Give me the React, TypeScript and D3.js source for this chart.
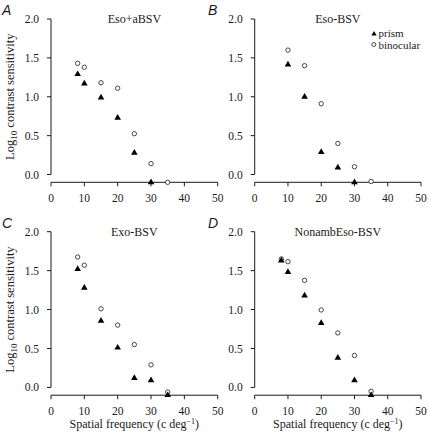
import React from "react";
import * as d3 from "d3";

const panelLetters = ["A", "B", "C", "D"];
const panelTitles = ["Eso+aBSV", "Eso-BSV", "Exo-BSV", "NonambEso-BSV"];
const xTicks = [0, 10, 20, 30, 40, 50];
const yTicks = [0, 0.5, 1.0, 1.5, 2.0];

// Panel A
const prismFreqA = [8, 10, 15, 20, 25, 30];
const prismA = [1.29, 1.17, 0.99, 0.73, 0.28, -0.1];
const binocFreqA = [8, 10, 15, 20, 25, 30, 35];
const binocA = [1.43, 1.38, 1.18, 1.11, 0.525, 0.14, -0.1];
// Panel B
const prismFreqB = [10, 15, 20, 25, 30];
const prismB = [1.415, 1.0, 0.29, 0.09, -0.1];
const binocFreqB = [10, 15, 20, 25, 30, 35];
const binocB = [1.6, 1.4, 0.91, 0.4, 0.1, -0.09];
// Panel C
const prismFreqC = [8, 10, 15, 20, 25, 30, 35];
const prismC = [1.52, 1.28, 0.855, 0.51, 0.12, 0.09, -0.1];
const binocFreqC = [8, 10, 15, 20, 25, 30, 35];
const binocC = [1.675, 1.57, 1.01, 0.8, 0.55, 0.29, -0.06];
// Panel D
const prismFreqD = [8, 10, 15, 20, 25, 30, 35];
const prismD = [1.63, 1.48, 1.18, 0.825, 0.38, 0.09, -0.1];
const binocFreqD = [8, 10, 15, 20, 25, 30, 35];
const binocD = [1.65, 1.615, 1.375, 0.995, 0.7, 0.41, -0.05];

const legendLabels = ["prism", "binocular"];

const panels = [
  { pf: prismFreqA, pv: prismA, bf: binocFreqA, bv: binocA },
  { pf: prismFreqB, pv: prismB, bf: binocFreqB, bv: binocB },
  { pf: prismFreqC, pv: prismC, bf: binocFreqC, bv: binocC },
  { pf: prismFreqD, pv: prismD, bf: binocFreqD, bv: binocD },
];

const layout = [
  { x0: 51, x1: 217.7, yTop: 19, yBot: 182.3 },
  { x0: 254.7, x1: 421, yTop: 19, yBot: 182.3 },
  { x0: 51, x1: 217.7, yTop: 231.7, yBot: 395.2 },
  { x0: 254.7, x1: 421, yTop: 231.7, yBot: 395.2 },
];

const serifStyle = { fontFamily: '"Liberation Serif", "DejaVu Serif", serif' };
const sansStyle = { fontFamily: '"Liberation Sans", Arial, sans-serif', fontStyle: "italic" as const };
const ink = "#1a1a1a";
const tri = d3.symbol().type(d3.symbolTriangle).size(19)()!;

function Panel({ i }: { i: number }) {
  const L = layout[i];
  const P = panels[i];
  const x = d3.scaleLinear().domain([0, 50]).range([L.x0, L.x1]);
  const y = d3.scaleLinear().domain([-0.1, 2.0]).range([L.yBot, L.yTop]);
  const bottomRow = i >= 2;
  const leftCol = i % 2 === 0;
  return (
    <g>
      <line x1={x(0)} x2={x(0)} y1={y(2)} y2={y(0)} stroke={ink} strokeWidth={1} />
      {yTicks.map((t) => (
        <g key={"y" + t}>
          <line x1={x(0) - 4} x2={x(0)} y1={y(t)} y2={y(t)} stroke={ink} strokeWidth={1} />
          <text x={x(0) - 12} y={y(t)} dy="0.35em" textAnchor="end" style={serifStyle} fontSize={11.5} fill={ink}>
            {d3.format(".1f")(t)}
          </text>
        </g>
      ))}
      <line x1={x(0)} x2={x(50)} y1={y(-0.1)} y2={y(-0.1)} stroke={ink} strokeWidth={1} />
      {xTicks.map((t) => (
        <g key={"x" + t}>
          <line x1={x(t)} x2={x(t)} y1={y(-0.1)} y2={y(-0.1) + 4} stroke={ink} strokeWidth={1} />
          <text x={x(t)} y={y(-0.1) + 19.5} textAnchor="middle" style={serifStyle} fontSize={11.5} fill={ink}>
            {t}
          </text>
        </g>
      ))}
      <text x={x(25)} y={L.yTop + 4} textAnchor="middle" style={serifStyle} fontSize={12} fill={ink}>
        {panelTitles[i]}
      </text>
      <text x={leftCol ? 2 : 208} y={L.yTop - 4} style={sansStyle} fontSize={14} fill={ink}>
        {panelLetters[i]}
      </text>
      {leftCol && (
        <text
          transform={`translate(14,${(y(0) + y(2)) / 2}) rotate(-90)`}
          textAnchor="middle"
          style={serifStyle}
          fontSize={12.5}
          fill={ink}
        >
          Log
          <tspan fontSize={9} dy={3}>10</tspan>
          <tspan dy={-3}> contrast sensitivity</tspan>
        </text>
      )}
      {bottomRow && (
        <text x={x(25)} y={427.5} textAnchor="middle" style={serifStyle} fontSize={12} fill={ink}>
          Spatial frequency (c deg
          <tspan fontSize={8} dy={-4}>−1</tspan>
          <tspan dy={4}>)</tspan>
        </text>
      )}
      {P.bf.map((f, k) => (
        <circle key={"b" + k} cx={x(f)} cy={y(P.bv[k])} r={2.2} fill="white" stroke="#333" strokeWidth={0.9} />
      ))}
      {P.pf.map((f, k) => (
        <path key={"p" + k} d={tri} transform={`translate(${x(f)},${y(P.pv[k])})`} fill="#000" />
      ))}
      {i === 1 && (
        <g>
          <path d={tri} transform="translate(374,34) scale(0.8)" fill="#000" />
          <text x={378.5} y={37} style={serifStyle} fontSize={11} fill={ink}>
            {legendLabels[0]}
          </text>
          <circle cx={373.8} cy={44.5} r={2} fill="white" stroke="#333" strokeWidth={0.9} />
          <text x={378.5} y={48.5} style={serifStyle} fontSize={11} fill={ink}>
            {legendLabels[1]}
          </text>
        </g>
      )}
    </g>
  );
}

export default function App() {
  return (
    <svg width={429} height={432} style={{ position: "absolute", left: 0, top: 0, background: "white" }}>
      <rect width={429} height={432} fill="white" />
      {[0, 1, 2, 3].map((i) => (
        <Panel key={i} i={i} />
      ))}
    </svg>
  );
}
